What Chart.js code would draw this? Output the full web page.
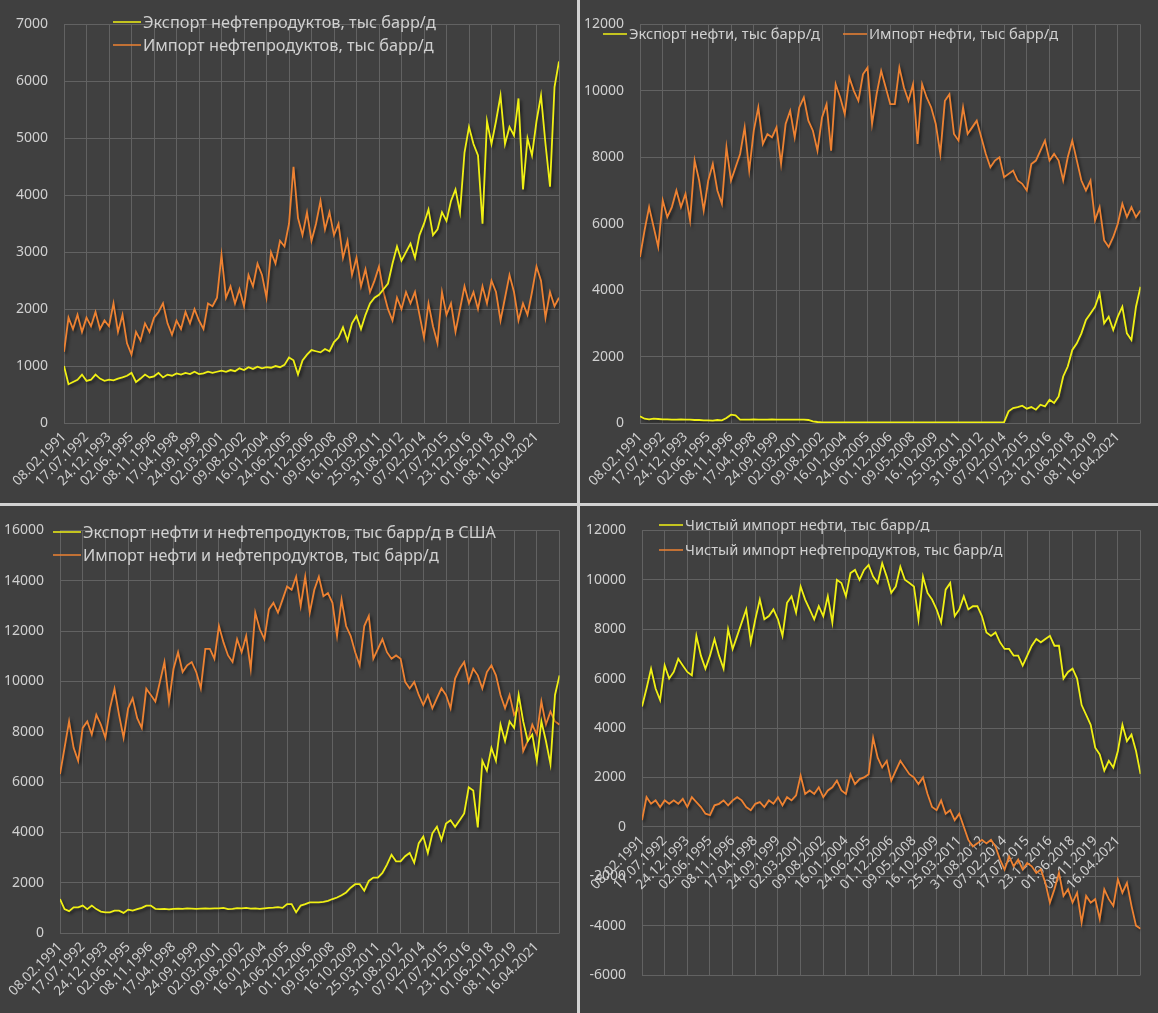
<!DOCTYPE html>
<html>
<head>
<meta charset="utf-8">
<script src="https://cdn.jsdelivr.net/npm/chart.js@4.4.1/dist/chart.umd.min.js"></script>
<style>
html,body{margin:0;padding:0;background:#d2d2d2;}
#grid{display:grid;grid-template-columns:577px 578px;grid-template-rows:503px 507px;column-gap:3px;row-gap:3px;width:1158px;height:1013px;}
.panel{position:relative;background:#404040;overflow:hidden;}
.panel canvas{display:block;}
</style>
</head>
<body>
<div id="grid">
  <div class="panel"><canvas id="c1"></canvas></div>
  <div class="panel"><canvas id="c2"></canvas></div>
  <div class="panel"><canvas id="c3"></canvas></div>
  <div class="panel"><canvas id="c4"></canvas></div>
</div>
<script>
// ---------- DATA ----------
// one sample every 15 weeks, starting 08.02.1991 (tick labels every 75 weeks)
const weeksPerSample = 15;
const weeksPerTick = 75;
const totalWeeks = 1650;
const tickLabels = ['08.02.1991','17.07.1992','24.12.1993','02.06.1995','08.11.1996','17.04.1998','24.09.1999','02.03.2001','09.08.2002','16.01.2004','24.06.2005','01.12.2006','09.05.2008','16.10.2009','25.03.2011','31.08.2012','07.02.2014','17.07.2015','23.12.2016','01.06.2018','08.11.2019','16.04.2021'];

// Panel 1: products
const productExport = [1000,680,720,760,850,740,760,850,780,740,
 760,750,780,800,830,880,720,780,850,800,
 820,880,800,850,830,870,850,880,860,900,
 860,870,900,880,900,920,900,930,910,960,
 930,980,950,990,960,980,970,1000,980,1020,
 1150,1100,850,1100,1200,1280,1260,1240,1300,1260,
 1420,1500,1680,1450,1750,1880,1650,1900,2100,2200,
 2250,2350,2450,2800,3100,2850,3000,3150,2900,3300,
 3500,3750,3300,3400,3700,3550,3900,4100,3700,4750,
 5200,4900,4700,3500,5300,4900,5300,5750,4900,5200,
 5050,5700,4100,5000,4700,5300,5750,4900,4150,5900,
 6350];
const productImport = [1250,1850,1650,1900,1600,1850,1700,1950,1650,1800,
 1700,2100,1600,1900,1400,1200,1600,1450,1750,1600,
 1850,1950,2100,1750,1550,1800,1650,1950,1750,2000,
 1800,1650,2100,2050,2200,2950,2200,2400,2100,2350,
 2050,2600,2400,2800,2600,2200,3000,2800,3200,3100,
 3500,4500,3600,3300,3700,3200,3500,3900,3400,3700,
 3300,3500,2900,3200,2600,2900,2400,2700,2300,2500,
 2750,2300,2000,1800,2200,2000,2300,2100,2300,1900,
 1500,2100,1700,1400,2300,1900,2100,1600,2000,2400,
 2100,2300,2000,2400,2100,2500,2300,1800,2200,2600,
 2300,1800,2100,1900,2300,2750,2500,1850,2300,2050,
 2200];

// Panel 2: crude
const crudeExport = [200,130,110,130,120,110,110,100,100,110,
 100,100,90,90,80,80,70,90,80,150,
 250,230,100,100,100,110,100,100,100,110,
 100,100,100,100,100,100,100,90,50,30,
 20,20,20,20,20,20,20,20,20,20,
 20,20,20,20,20,20,20,20,20,20,
 20,20,20,20,20,20,20,20,20,20,
 20,20,20,20,20,20,20,20,20,20,
 20,350,450,480,520,430,480,400,550,500,
 700,600,800,1400,1700,2200,2400,2700,3100,3300,
 3500,3900,3000,3200,2800,3200,3500,2700,2500,3500,
 4100];
const crudeImport = [5000,5800,6500,5900,5300,6700,6200,6500,7000,6500,
 6900,6100,7900,7300,6400,7300,7800,7000,6600,8300,
 7300,7700,8100,8900,7600,8800,9500,8400,8700,8600,
 8900,7800,9000,9400,8600,9500,9800,9100,8800,8200,
 9200,9600,8200,10200,9800,9300,10400,10000,9700,10500,
 10700,9000,9900,10600,10100,9600,9600,10700,10100,9700,
 10200,8400,10200,9800,9500,9000,8100,9700,9900,8700,
 8500,9500,8700,8900,9100,8600,8100,7700,7900,8000,
 7400,7500,7600,7300,7200,7000,7800,7900,8200,8500,
 7900,8100,7900,7300,8000,8500,7900,7300,7000,7300,
 6100,6500,5500,5300,5600,6000,6600,6200,6500,6200,
 6400];

// Panel 3: crude + products
const totalExport = [1350,950,870,1020,1020,1090,950,1090,950,850,
 820,820,890,890,800,930,890,950,1000,1090,
 1090,960,950,960,940,960,970,960,980,970,
 960,970,980,970,980,980,1000,950,960,990,
 980,1000,970,980,960,980,1000,1010,1030,1000,
 1150,1150,820,1090,1150,1220,1220,1220,1240,1280,
 1350,1410,1500,1610,1800,1940,1940,1680,2070,2200,
 2200,2390,2720,3110,2850,2850,3050,3180,2790,3570,
 3830,3180,3960,4220,3700,4350,4480,4220,4480,4750,
 5790,5660,4200,6840,6450,7360,6840,8280,7630,8410,
 8150,9460,8410,7630,7890,6840,8410,7630,6710,9460,
 10240];
const totalImport = [6320,7360,8410,7360,6840,8150,8410,7890,8670,8280,
 7760,8930,9710,8670,7760,8930,9330,8540,8150,9710,
 9460,9200,9980,10770,9200,10500,11160,10370,10640,10770,
 10370,9720,11290,11290,10900,12200,11550,11030,10770,11680,
 11160,11810,10500,12730,12070,11680,12860,13120,12730,13250,
 13770,13640,14160,12990,14160,12730,13640,14160,13380,13510,
 13120,11810,13250,12200,11810,11160,10640,12200,12600,10900,
 11290,11680,11160,10900,11030,10900,9980,9720,9980,9460,
 9060,9460,8930,9330,9720,9460,8930,10110,10500,10770,
 9980,10500,10240,9720,10370,10640,10240,9460,8930,9460,
 8670,8930,7230,7630,8280,7890,9200,8280,8800,8410,
 8280];

// Panel 4: net imports
const netCrudeImport = [4870,5600,6400,5600,5130,6530,6000,6270,6800,6530,
 6270,6130,7730,6930,6400,6930,7600,6930,6400,8000,
 7200,7730,8270,8800,7470,8400,9200,8400,8530,8800,
 8400,7730,9070,9330,8670,9730,9200,8800,8400,8930,
 8530,9330,8270,10000,9870,9330,10270,10400,10000,10400,
 10600,10130,9870,10670,10130,9470,9730,10530,10000,9870,
 9730,8400,10130,9470,9200,8800,8270,9600,9870,8530,
 8800,9330,8800,8930,8930,8530,7870,7730,7870,7470,
 7200,7200,6930,6930,6530,6930,7330,7600,7470,7600,
 7730,7330,7330,6000,6270,6400,6000,4930,4530,4130,
 3200,2930,2270,2670,2400,3070,4130,3470,3730,3070,
 2130];
const netProductImport = [270,1200,930,1070,800,1070,930,1070,930,1130,
 800,1200,1000,800,530,470,870,930,1070,870,
 1070,1200,1070,800,670,930,1000,800,1070,930,
 1200,870,1200,1070,1270,2070,1330,1470,1330,1600,
 1200,1470,1600,1870,1470,1330,2130,1730,1930,2000,
 2130,3600,2800,2400,2670,1870,2270,2670,2400,2130,
 2000,1730,2000,1330,800,670,1070,530,670,270,
 530,0,-530,-800,-670,-530,-670,-530,-800,-1330,
 -1730,-1200,-1600,-1330,-1730,-1470,-1600,-1870,-1730,-2270,
 -3070,-2530,-1870,-2800,-2530,-3070,-2670,-3870,-2800,-3070,
 -2930,-3730,-2530,-2930,-3200,-2130,-2670,-2270,-3200,-4000,
 -4130];

// ---------- STYLE ----------
const YELLOW = '#f0f014';
const ORANGE = '#ee8232';
const TEXT = '#d0d0d0';
const GRID = '#626262';
const FONT = '"Noto Sans", "DejaVu Sans", sans-serif';

const shadowPlugin = {
  id: 'lineShadow',
  beforeDatasetDraw(chart) {
    const c = chart.ctx;
    c.save();
    c.shadowColor = 'rgba(0,0,0,0.55)';
    c.shadowBlur = 3;
    c.shadowOffsetX = 2;
    c.shadowOffsetY = 2;
  },
  afterDatasetDraw(chart) { chart.ctx.restore(); }
};

const overlayLegend = {
  id: 'overlayLegend',
  afterDraw(chart, args, opts) {
    if (!opts || !opts.items) return;
    const c = chart.ctx;
    c.save();
    c.font = opts.font;
    c.textBaseline = 'middle';
    c.textAlign = 'left';
    for (const it of opts.items) {
      const ds = chart.data.datasets[it.dataset];
      c.strokeStyle = ds.borderColor;
      c.lineWidth = 1.5;
      c.beginPath();
      c.moveTo(it.x, it.y);
      c.lineTo(it.x + opts.lineLen, it.y);
      c.stroke();
      c.fillStyle = opts.color;
      c.fillText(ds.label, it.x + opts.lineLen + 2, it.y + 1);
    }
    c.restore();
  }
};

function series(values) {
  return values.map((v, i) => ({ x: i * weeksPerSample, y: v }));
}

function makeChart(id, cfg) {
  const xScale = {
    type: 'linear',
    min: 0,
    max: totalWeeks,
    border: { display: false },
    grid: { color: GRID, lineWidth: 1, drawTicks: false },
    ticks: {
      stepSize: weeksPerTick,
      autoSkip: false,
      minRotation: 45,
      maxRotation: 45,
      padding: 6,
      color: TEXT,
      font: { family: FONT, size: 13.5 },
      callback: (v) => tickLabels[Math.round(v / weeksPerTick)] || ''
    },
    afterFit: (s) => { s.height = cfg.xHeight; }
  };
  if (cfg.xAtZero) xScale.position = { y: 0 };
  new Chart(document.getElementById(id), {
    type: 'line',
    data: {
      datasets: [
        { label: cfg.labels[0], data: series(cfg.values[0]), borderColor: YELLOW, borderWidth: 1.8, pointRadius: 0, tension: 0 },
        { label: cfg.labels[1], data: series(cfg.values[1]), borderColor: ORANGE, borderWidth: 1.8, pointRadius: 0, tension: 0 }
      ]
    },
    options: {
      responsive: true,
      maintainAspectRatio: false,
      animation: false,
      events: [],
      layout: { padding: { left: 0, right: cfg.padRight, top: cfg.padTop, bottom: cfg.padBottom || 0 } },
      scales: {
        x: xScale,
        y: {
          type: 'linear',
          min: cfg.yMin, max: cfg.yMax,
          border: { display: false },
          grid: { color: GRID, lineWidth: 1, drawTicks: false },
          ticks: { stepSize: cfg.yStep, padding: 16, color: TEXT, font: { family: FONT, size: 14 },
                   callback: (v) => String(v) },
          afterFit: (s) => { s.width = cfg.yWidth; }
        }
      },
      plugins: {
        legend: { display: false },
        tooltip: { enabled: false },
        overlayLegend: { font: cfg.legendSize + 'px ' + FONT, color: TEXT, lineLen: cfg.legendLine, items: cfg.legend }
      }
    },
    plugins: [shadowPlugin, overlayLegend]
  });
}

makeChart('c1', {
  labels: ['Экспорт нефтепродуктов, тыс барр/д', 'Импорт нефтепродуктов, тыс барр/д'],
  values: [productExport, productImport],
  yMin: 0, yMax: 7000, yStep: 1000,
  yWidth: 64, padRight: 18, padTop: 15, xHeight: 80,
  legendLine: 28, legendSize: 16.3,
  legend: [{ dataset: 0, x: 113, y: 22 }, { dataset: 1, x: 113, y: 45 }]
});
makeChart('c2', {
  labels: ['Экспорт нефти, тыс барр/д', 'Импорт нефти, тыс барр/д'],
  values: [crudeExport, crudeImport],
  yMin: 0, yMax: 12000, yStep: 2000,
  yWidth: 60, padRight: 17, padTop: 15, xHeight: 80,
  legendLine: 24, legendSize: 14.7,
  legend: [{ dataset: 0, x: 23, y: 34 }, { dataset: 1, x: 263, y: 34 }]
});
makeChart('c3', {
  labels: ['Экспорт нефти и нефтепродуктов, тыс барр/д в США', 'Импорт нефти и нефтепродуктов, тыс барр/д'],
  values: [totalExport, totalImport],
  yMin: 0, yMax: 16000, yStep: 2000,
  yWidth: 60, padRight: 16, padTop: 19, xHeight: 80,
  legendLine: 28, legendSize: 16.2,
  legend: [{ dataset: 0, x: 53, y: 26 }, { dataset: 1, x: 53, y: 49 }]
});
makeChart('c4', {
  labels: ['Чистый импорт нефти, тыс барр/д', 'Чистый импорт нефтепродуктов, тыс барр/д'],
  values: [netCrudeImport, netProductImport],
  yMin: -6000, yMax: 12000, yStep: 2000,
  yWidth: 62, padRight: 15, padTop: 19, padBottom: 38, xHeight: 0, xAtZero: true,
  legendLine: 24, legendSize: 14.7,
  legend: [{ dataset: 0, x: 79, y: 19 }, { dataset: 1, x: 79, y: 44 }]
});
</script>
</body>
</html>
